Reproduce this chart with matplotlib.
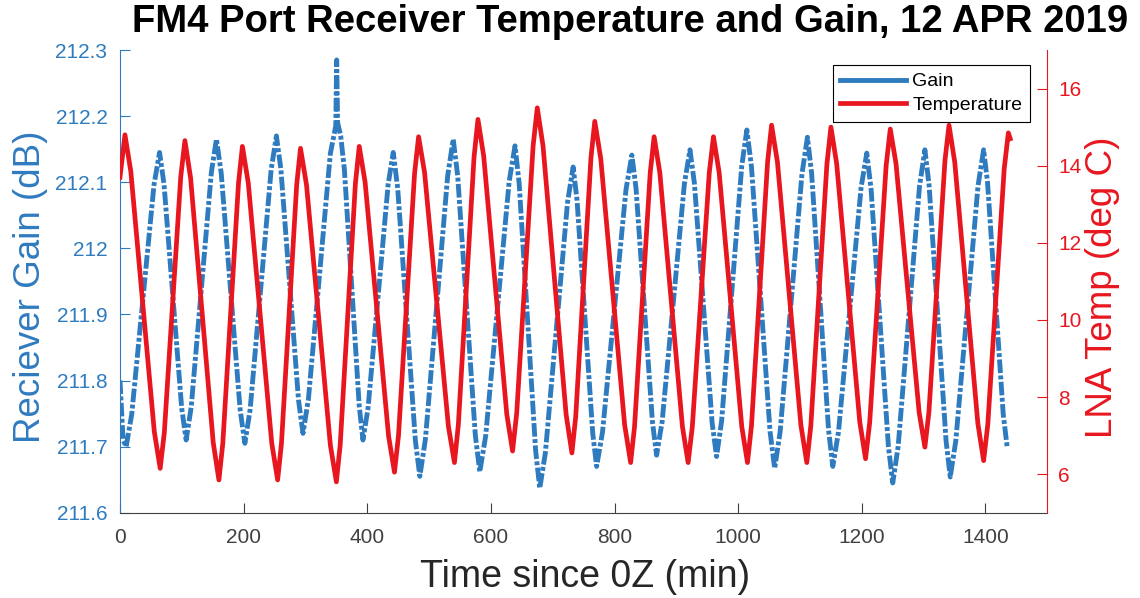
import matplotlib
matplotlib.use("Agg")
import matplotlib.pyplot as plt
from matplotlib.lines import Line2D

plt.rcParams['font.family'] = ['Liberation Sans', 'DejaVu Sans']

# receiver gain (dB), minutes since 0Z
gain_t = [0, 5, 10, 19, 55, 64, 71.2, 99.8, 107, 115.2, 147.8, 156, 163.7, 194.3, 202,
          210.5, 244.5, 253, 260.2, 288.8, 296, 304.8, 340.2, 349, 350.5, 352, 357, 363,
          387, 393, 401.2, 433.8, 442, 449.2, 477.8, 485, 494, 530, 539, 546.2, 574.8,
          582, 591.5, 629.5, 639, 645.7, 672.3, 679, 688, 724, 733, 739.3, 764.7, 771,
          780.5, 818.5, 828, 834.7, 861.3, 868, 877, 913, 922, 929.2, 957.8, 965, 973.2,
          1005.8, 1014, 1021.5, 1051.5, 1059, 1067.8, 1103.2, 1112, 1118.8, 1146.2, 1153,
          1162.2, 1198.8, 1208, 1215, 1243, 1250, 1258.7, 1293.3, 1302, 1308.8, 1336.2,
          1343, 1352, 1388, 1397, 1403.3, 1428.7, 1435]
gain_db = [211.80, 211.71, 211.70, 211.749, 212.096, 212.145, 212.097, 211.758, 211.71,
           211.760, 212.115, 212.165, 212.114, 211.756, 211.705, 211.756, 212.119, 212.17,
           212.12, 211.77, 211.72, 211.772, 212.143, 212.185, 212.285, 212.19, 212.17,
           212.119, 211.761, 211.71, 211.758, 212.097, 212.145, 212.091, 211.709, 211.655,
           211.711, 212.109, 212.165, 212.11, 211.717, 211.662, 211.716, 212.101, 212.155,
           212.098, 211.694, 211.637, 211.69, 212.07, 212.123, 212.073, 211.72, 211.67,
           211.722, 212.089, 212.141, 212.091, 211.737, 211.687, 211.738, 212.098, 212.149,
           212.098, 211.736, 211.685, 211.739, 212.125, 212.179, 212.123, 211.723, 211.667,
           211.722, 212.113, 212.168, 212.113, 211.725, 211.67, 211.722, 212.092, 212.144,
           212.089, 211.70, 211.645, 211.70, 212.094, 212.149, 212.095, 211.709, 211.654,
           211.709, 212.095, 212.149, 212.1, 211.749, 211.70]

# LNA temperature (deg C)
temp_t = [0, 8, 17.5, 55.5, 65, 71.7, 98.3, 105, 114.2, 150.8, 160, 166.3, 191.7, 198,
          207.5, 245.5, 255, 261.2, 285.8, 292, 301.7, 340.3, 350, 356.2, 380.8, 387,
          396.5, 434.5, 444, 450.5, 476.5, 483, 492.7, 531.3, 541, 547.3, 572.7, 579,
          588.3, 625.7, 635, 641.7, 668.3, 675, 684.3, 721.7, 731, 737.2, 761.8, 768,
          777.7, 816.3, 826, 832.3, 857.7, 864, 873.2, 909.8, 919, 925.8, 953.2, 960,
          969.2, 1005.8, 1015, 1021.5, 1047.5, 1054, 1063.5, 1101.5, 1111, 1117.5, 1143.5,
          1150, 1159.3, 1196.7, 1206, 1212.7, 1239.3, 1246, 1255.3, 1292.7, 1302, 1308.5,
          1334.5, 1341, 1350.3, 1387.7, 1397, 1403.7, 1430.3, 1437, 1440]
temp_c = [13.7, 14.8, 13.85, 7.1, 6.15, 7.08, 13.72, 14.65, 13.68, 6.82, 5.85, 6.8, 13.55,
          14.5, 13.55, 6.8, 5.85, 6.8, 13.5, 14.45, 13.5, 6.75, 5.8, 6.76, 13.54, 14.5,
          13.57, 6.98, 6.05, 7.0, 13.8, 14.75, 13.82, 7.23, 6.3, 7.28, 14.22, 15.2, 14.25,
          7.55, 6.6, 7.58, 14.52, 15.5, 14.51, 7.54, 6.55, 7.5, 14.2, 15.15, 14.18, 7.28,
          6.3, 7.23, 13.82, 14.75, 13.82, 7.23, 6.3, 7.23, 13.82, 14.75, 13.82, 7.23, 6.3,
          7.26, 14.09, 15.05, 14.09, 7.26, 6.3, 7.26, 14.04, 15.0, 14.05, 7.35, 6.4, 7.34,
          14.0, 14.95, 14.05, 7.6, 6.7, 7.61, 14.14, 15.05, 14.09, 7.31, 6.35, 7.28, 13.92,
          14.85, 14.7]

x_ticks = [0, 200, 400, 600, 800, 1000, 1200, 1400]
gain_ticks = [211.6, 211.7, 211.8, 211.9, 212.0, 212.1, 212.2, 212.3]
gain_labels = ['211.6', '211.7', '211.8', '211.9', '212', '212.1', '212.2', '212.3']
temp_ticks = [6, 8, 10, 12, 14, 16]

BLUE = '#2f7bbf'
RED = '#e8161f'
GREY = '#404040'

fig = plt.figure(figsize=(11.4, 5.98), dpi=100)
ax = fig.add_axes([120 / 1140, 1 - 512.7 / 598, 927.3 / 1140, 462.7 / 598])
ax2 = ax.twinx()

# gain, dash-dot look of the gappy data
gl, = ax.plot(gain_t, gain_db, color=BLUE, lw=3.5)
gl.set_dashes((2.8, 0.5, 0.8, 0.5))
gl.set_dash_capstyle('butt')

ax2.plot(temp_t, temp_c, color=RED, lw=3.4, solid_joinstyle='round')

ax.set_xlim(0, 1500)
ax.set_ylim(211.6, 212.3)
ax2.set_ylim(5, 17)
ax.set_xticks(x_ticks)
ax.set_yticks(gain_ticks)
ax.set_yticklabels(gain_labels)
ax2.set_yticks(temp_ticks)

# spines
ax.spines['top'].set_visible(False)
ax.spines['right'].set_visible(False)
ax2.spines['top'].set_visible(False)
ax2.spines['left'].set_visible(False)
ax2.spines['bottom'].set_visible(False)
ax.spines['left'].set_color(BLUE)
ax.spines['bottom'].set_color(GREY)
ax2.spines['right'].set_color(RED)

ax.tick_params(axis='x', direction='in', length=7, colors=GREY, labelsize=15, pad=11)
ax.tick_params(axis='y', direction='in', length=7, colors=BLUE, labelsize=15, pad=9)
ax2.tick_params(axis='y', direction='in', length=7, colors=RED, labelsize=15, pad=8)

fig.text(630 / 1140, 1 - 22 / 598, 'FM4 Port Receiver Temperature and Gain, 12 APR 2019',
         ha='center', va='center', fontsize=27.5, fontweight='bold')
fig.text(585 / 1140, 1 - 577 / 598, 'Time since 0Z (min)', ha='center', va='center',
         fontsize=27, color='#262626')
fig.text(31 / 1140, 1 - 287 / 598, 'Reciever Gain (dB)', ha='center', va='center',
         rotation=90, fontsize=26.5, color=BLUE)
fig.text(1102 / 1140, 1 - 287 / 598, 'LNA Temp (deg C)', ha='center', va='center',
         rotation=90, fontsize=26.5, color=RED)

handles = [Line2D([], [], color=BLUE, lw=3.5), Line2D([], [], color=RED, lw=3.4)]
leg = ax2.legend(handles, ['Gain', 'Temperature'], loc='upper right',
                 bbox_to_anchor=(1030 / 1140, 1 - 65 / 598), bbox_transform=fig.transFigure,
                 borderaxespad=0, fontsize=14, handlelength=3.4, handletextpad=0.3,
                 labelspacing=0.3, borderpad=0.4, fancybox=False, framealpha=1)
leg.get_frame().set_edgecolor('black')
leg.get_frame().set_linewidth(0.8)

fig.savefig('out.png', dpi=100)
